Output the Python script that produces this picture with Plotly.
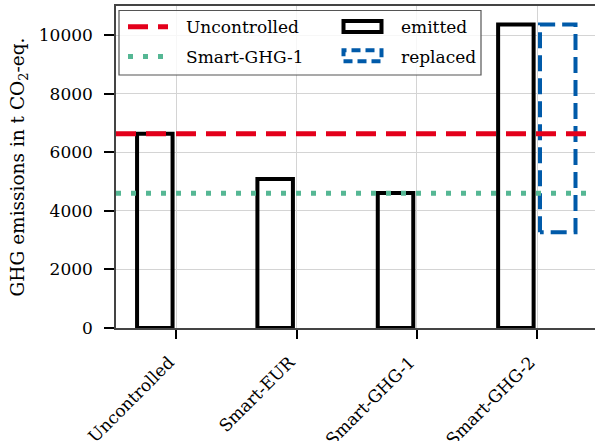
import plotly.graph_objects as go

# ---- data ----
categories = ["Uncontrolled", "Smart-EUR", "Smart-GHG-1", "Smart-GHG-2"]
emitted = [6640, 5090, 4615, 10370]
replaced_low = [None, None, None, 3270]
replaced_high = [None, None, None, 10370]
ref_lines = {"Uncontrolled": 6640, "Smart-GHG-1": 4600}
y_ticks = [0, 2000, 4000, 6000, 8000, 10000]
y_tick_labels = ["0", "2000", "4000", "6000", "8000", "10000"]

# ---- style ----
RED = "#e3001b"
GREEN = "#55b794"
BLUE = "#005aa9"
FONT = "DejaVu Serif"
FS = 17
W, H = 595, 441
L, R, T, B = 116, 0, 6, 113
X_MIN, X_MAX = -0.5, 3.48
Y_MAX = 11000
BAR_W = 0.295
EM_OFF = -0.325
RP_OFF = 0.023

idx = list(range(len(categories)))

fig = go.Figure()

fig.add_trace(go.Bar(
    x=idx, y=emitted, width=BAR_W, offset=EM_OFF,
    marker=dict(color="rgba(0,0,0,0)", line=dict(color="black", width=4)),
    showlegend=False,
))

for i, lo, hi in zip(idx, replaced_low, replaced_high):
    if lo is None:
        continue
    x0, x1 = i + RP_OFF, i + RP_OFF + BAR_W
    fig.add_trace(go.Scatter(
        x=[x0, x0, x1, x1, x0], y=[lo, hi, hi, lo, lo], mode="lines",
        line=dict(color=BLUE, width=4, dash="16px,7px"), showlegend=False,
        hoverinfo="skip",
    ))

fig.add_trace(go.Scatter(
    x=[X_MIN, X_MAX], y=[ref_lines["Uncontrolled"]] * 2, mode="lines",
    line=dict(color=RED, width=5, dash="20px,10px"), showlegend=False))
fig.add_trace(go.Scatter(
    x=[X_MIN, X_MAX], y=[ref_lines["Smart-GHG-1"]] * 2, mode="lines",
    line=dict(color=GREEN, width=5, dash="5px,10px"), showlegend=False))

# ---- manual legend (paper coords from pixel positions) ----
PW = W - L - R
PH = H - T - B
def px(xp):
    return (xp - L) / PW
def py(yp):
    return (H - B - yp) / PH

shapes = [
    dict(type="rect", xref="paper", yref="paper", x0=px(119), x1=px(481), y0=py(75), y1=py(10.5),
         line=dict(color="#555555", width=1.2), fillcolor="rgba(255,255,255,0.8)", layer="above"),
    dict(type="line", xref="paper", yref="paper", x0=px(128), x1=px(168), y0=py(26.7), y1=py(26.7),
         line=dict(color=RED, width=5, dash="20px,10px"), layer="above"),
    dict(type="line", xref="paper", yref="paper", x0=px(128), x1=px(168), y0=py(56.5), y1=py(56.5),
         line=dict(color=GREEN, width=5, dash="5px,10px"), layer="above"),
    dict(type="rect", xref="paper", yref="paper", x0=px(343.5), x1=px(381.5), y0=py(32), y1=py(21),
         line=dict(color="black", width=4), layer="above"),
    dict(type="rect", xref="paper", yref="paper", x0=px(343.5), x1=px(381.5), y0=py(61.3), y1=py(50.3),
         line=dict(color=BLUE, width=4, dash="9px,5px"), layer="above"),
]
annotations = []
for text, xp, yp in [("Uncontrolled", 184, 26.7), ("Smart-GHG-1", 184, 56.5),
                     ("emitted", 399, 26.7), ("replaced", 399, 56.5)]:
    annotations.append(dict(text=text, xref="paper", yref="paper", x=px(xp), y=py(yp),
                            xanchor="left", yanchor="middle", showarrow=False,
                            font=dict(family=FONT, size=FS, color="black")))

fig.update_layout(
    width=W, height=H,
    margin=dict(l=L, r=R, t=T, b=B, autoexpand=False),
    paper_bgcolor="white", plot_bgcolor="white",
    font=dict(family=FONT, size=FS, color="black"),
    barmode="overlay",
    shapes=shapes, annotations=annotations,
    showlegend=False,
)
fig.update_xaxes(
    range=[X_MIN, X_MAX], tickmode="array", tickvals=idx, ticktext=categories,
    tickangle=-45, ticks="outside", ticklen=9, tickwidth=2, tickcolor="black",
    ticklabelstandoff=7, ticklabelshift=-7,
    showgrid=True, gridcolor="#d4d4d4", gridwidth=1,
    showline=True, linecolor="#444444", linewidth=1.5, mirror=True,
    zeroline=False, tickfont=dict(family=FONT, size=FS), automargin=False,
)
fig.update_yaxes(
    range=[0, Y_MAX], tickmode="array", tickvals=y_ticks, ticktext=y_tick_labels,
    ticks="outside", ticklen=10, tickwidth=2, tickcolor="black",
    ticklabelstandoff=8,
    showgrid=True, gridcolor="#d4d4d4", gridwidth=1,
    showline=True, linecolor="#444444", linewidth=1.5,
    zeroline=False, tickfont=dict(family=FONT, size=FS), automargin=False,
    title=dict(text="GHG emissions in t CO<sub>2</sub>-eq.", font=dict(family=FONT, size=18.5), standoff=9),
)

fig.write_html(
    "out.html",
    config={"displayModeBar": False},
    post_script="document.body.style.margin='0';document.body.style.padding='0';",
)
